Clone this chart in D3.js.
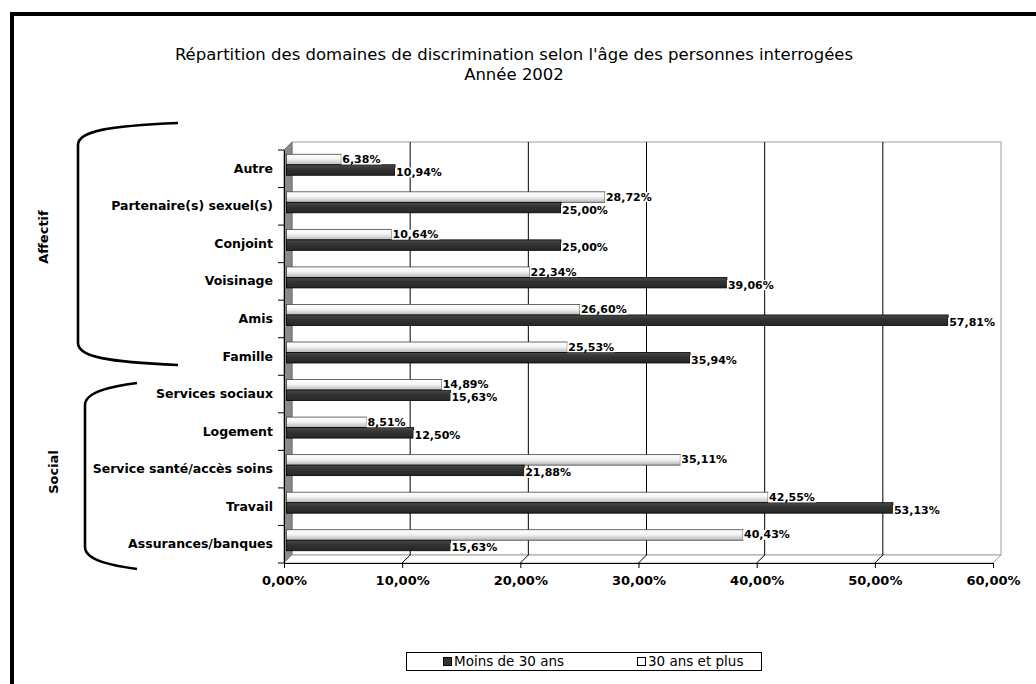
<!DOCTYPE html>
<meta charset="utf-8">
<script src="https://cdn.jsdelivr.net/npm/d3@7"></script>
<style>
  body { margin: 0; background: #fff; }
  text { font-family: "DejaVu Sans", Verdana, sans-serif; }
  .cat text { font-size: 12.5px; font-weight: bold; }
  .xaxis text { font-size: 13px; font-weight: bold; }
  .val { font-size: 11px; font-weight: bold; }
</style>
<div id="chart"></div>
<script>

// categories, top to bottom
const categories = ["Autre", "Partenaire(s) sexuel(s)", "Conjoint", "Voisinage", "Amis", "Famille",
                    "Services sociaux", "Logement", "Service santé/accès soins", "Travail", "Assurances/banques"];
// Moins de 30 ans (dark bars)
const moins30 = [10.94, 25.00, 25.00, 39.06, 57.81, 35.94, 15.63, 12.50, 21.88, 53.13, 15.63];
// 30 ans et plus (white bars)
const plus30 = [6.38, 28.72, 10.64, 22.34, 26.60, 25.53, 14.89, 8.51, 35.11, 42.55, 40.43];
const xTicks = [0, 10, 20, 30, 40, 50, 60];
const groups = [{name: "Affectif", from: 0, to: 5}, {name: "Social", from: 6, to: 10}];

const W = 1036, H = 684;
const depth = {dx: 8, dy: -8};

const svg = d3.select("#chart").append("svg")
  .attr("width", W).attr("height", H);

// outer frame
svg.append("rect")
  .attr("x", 12).attr("y", 14)
  .attr("width", W + 20).attr("height", H + 20)
  .attr("fill", "none").attr("stroke", "#000").attr("stroke-width", 4);

// title
svg.append("text").attr("x", 514).attr("y", 60).attr("text-anchor", "middle")
  .style("font-size", "16.5px").text("Répartition des domaines de discrimination selon l'âge des personnes interrogées");
svg.append("text").attr("x", 514).attr("y", 80).attr("text-anchor", "middle")
  .style("font-size", "16.5px").text("Année 2002");

// scales
const x = d3.scaleLinear().domain([0, 60]).range([284, 993]);          // front axis
const xBar = d3.scaleLinear().domain([0, 60]).range([266, 974]);       // bar ends (as drawn in the 3D view)
const y = d3.scaleBand().domain(categories).range([150, 563]);         // front
const yBars = d3.scaleBand().domain(categories).range([146, 559]);     // bars sit slightly back

const plotTop = 150, plotBottom = 563;
const bx = v => x(v) + depth.dx;

const defs = svg.append("defs");
const grad = defs.append("linearGradient").attr("id", "gw").attr("x1", 0).attr("y1", 0).attr("x2", 0).attr("y2", 1);
grad.append("stop").attr("offset", "0%").attr("stop-color", "#ffffff");
grad.append("stop").attr("offset", "45%").attr("stop-color", "#f4f4f4");
grad.append("stop").attr("offset", "100%").attr("stop-color", "#b8b8b8");
const gradD = defs.append("linearGradient").attr("id", "gd").attr("x1", 0).attr("y1", 0).attr("x2", 0).attr("y2", 1);
gradD.append("stop").attr("offset", "0%").attr("stop-color", "#4a4a4a");
gradD.append("stop").attr("offset", "40%").attr("stop-color", "#333");
gradD.append("stop").attr("offset", "100%").attr("stop-color", "#262626");

// back wall
svg.append("rect")
  .attr("x", bx(0)).attr("y", plotTop + depth.dy)
  .attr("width", bx(60) - bx(0)).attr("height", plotBottom - plotTop)
  .attr("fill", "#fff").attr("stroke", "#a0a0a0");

// side wall
svg.append("path")
  .attr("d", `M${x(0)},${plotTop}L${bx(0)},${plotTop + depth.dy}L${bx(0)},${plotBottom + depth.dy}L${x(0)},${plotBottom}Z`)
  .attr("fill", "#8a8a8a").attr("stroke", "#707070");

// floor
svg.append("path")
  .attr("d", `M${x(0)},${plotBottom}L${bx(0)},${plotBottom + depth.dy}L${bx(60)},${plotBottom + depth.dy}L${x(60)},${plotBottom}Z`)
  .attr("fill", "#fff").attr("stroke", "#a0a0a0");

// grid lines on wall and floor
const grid = svg.append("g");
grid.selectAll("line.gv").data(xTicks.slice(1, -1)).join("line")
  .attr("x1", d => bx(d)).attr("x2", d => bx(d))
  .attr("y1", plotTop + depth.dy).attr("y2", plotBottom + depth.dy)
  .attr("stroke", "#000");
grid.selectAll("line.gf").data(xTicks.slice(1)).join("line")
  .attr("x1", d => bx(d)).attr("x2", d => x(d))
  .attr("y1", plotBottom + depth.dy).attr("y2", plotBottom)
  .attr("stroke", d => d === 60 ? "#a0a0a0" : "#000");

// bars
const barH = 10.5;
const rows = categories.map((c, i) => ({cat: c, m: moins30[i], p: plus30[i]}));
const bars = svg.append("g");
const fmt = v => d3.format(".2f")(v).replace(".", ",") + "%";

rows.forEach(r => {
  const cy = yBars(r.cat) + yBars.bandwidth() / 2;
  // white bar (30 ans et plus)
  bars.append("rect")
    .attr("x", 286.5).attr("y", cy - barH)
    .attr("width", xBar(r.p) - 286.5).attr("height", barH)
    .attr("fill", "url(#gw)").attr("stroke", "#444").attr("stroke-width", 0.8);
  // dark bar (moins de 30 ans)
  bars.append("rect")
    .attr("x", 286.5).attr("y", cy)
    .attr("width", xBar(r.m) - 286.5).attr("height", barH)
    .attr("fill", "url(#gd)").attr("stroke", "#000").attr("stroke-width", 0.8);
});

// value labels
const labels = svg.append("g");
rows.forEach(r => {
  const cy = yBars(r.cat) + yBars.bandwidth() / 2;
  [[r.p, cy - 5.75], [r.m, cy + 7.25]].forEach(([v, ly]) => {
    const g = labels.append("g");
    const t = g.append("text").attr("class", "val")
      .attr("x", xBar(v) + 1).attr("y", ly).attr("dy", "0.36em").text(fmt(v));
    const bb = t.node().getBBox();
    g.insert("rect", "text")
      .attr("x", bb.x - 1).attr("y", bb.y + 1.5).attr("width", bb.width + 2).attr("height", bb.height - 3)
      .attr("fill", "#fff");
  });
});

// x axis
const xAxis = svg.append("g").attr("class", "xaxis")
  .attr("transform", `translate(0,${plotBottom})`)
  .call(d3.axisBottom(x).tickValues(xTicks).tickSize(5).tickPadding(8).tickFormat(fmt));
xAxis.select(".domain").attr("stroke", "#000");
xAxis.selectAll("text").attr("fill", "#000");

// y axis: labels + boundary ticks
const yAxis = svg.append("g").attr("class", "cat")
  .attr("transform", `translate(${x(0)},0)`)
  .call(d3.axisLeft(y).tickSize(0).tickPadding(11));
yAxis.select(".domain").attr("stroke", "#000");
yAxis.selectAll("text").attr("fill", "#000");
const bounds = categories.map(c => y(c)).concat([y.range()[1]]);
yAxis.selectAll("line.bt").data(bounds).join("line")
  .attr("x1", -6).attr("x2", 0).attr("y1", d => d).attr("y2", d => d)
  .attr("stroke", "#000");

// group braces
const braceSpecs = [
  {g: groups[0], x0: 78, x1: 178, yTop: 123, yBot: 365, lx: 43, ly: 237},
  {g: groups[1], x0: 85, x1: 137, yTop: 383, yBot: 569, lx: 53, ly: 472}
];
braceSpecs.forEach(b => {
  const p = d3.path();
  p.moveTo(b.x1, b.yTop);
  p.bezierCurveTo(b.x0 + 30, b.yTop + 3, b.x0, b.yTop + 8, b.x0, b.yTop + 22);
  p.lineTo(b.x0, b.yBot - 22);
  p.bezierCurveTo(b.x0, b.yBot - 8, b.x0 + 30, b.yBot - 3, b.x1, b.yBot);
  svg.append("path").attr("d", p.toString())
    .attr("fill", "none").attr("stroke", "#000").attr("stroke-width", 2.6);
  svg.append("text")
    .attr("transform", `translate(${b.lx},${b.ly}) rotate(-90)`)
    .attr("text-anchor", "middle").attr("dy", "0.35em")
    .style("font-size", "13px").style("font-weight", "bold")
    .text(b.g.name);
});

// legend
const leg = svg.append("g");
leg.append("rect").attr("x", 406.5).attr("y", 652.5).attr("width", 355).attr("height", 18)
  .attr("fill", "#fff").attr("stroke", "#000");
const items = [{name: "Moins de 30 ans", fill: "#333", x: 443}, {name: "30 ans et plus", fill: "#fff", x: 637}];
items.forEach(it => {
  leg.append("rect").attr("x", it.x + 0.5).attr("y", 657.5).attr("width", 8).attr("height", 8)
    .attr("fill", it.fill).attr("stroke", "#000");
  leg.append("text").attr("x", it.x + 11).attr("y", 661.5).attr("dy", "0.35em")
    .style("font-size", "13.5px").text(it.name);
});
</script>
